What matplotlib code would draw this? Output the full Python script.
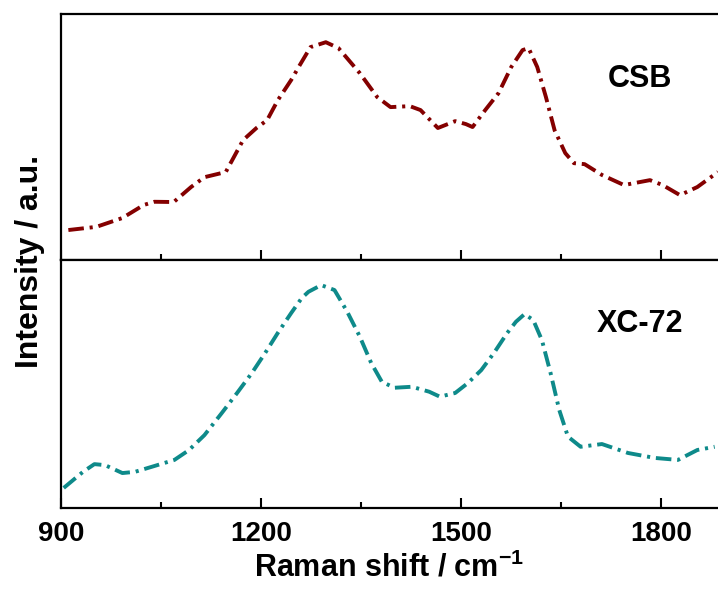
import numpy as np
import matplotlib
matplotlib.use("Agg")
from matplotlib import pyplot as plt
from matplotlib.ticker import MultipleLocator

plt.rcParams['font.family'] = ['Liberation Sans', 'DejaVu Sans']
plt.rcParams['font.weight'] = 'bold'
plt.rcParams['mathtext.fontset'] = 'custom'
plt.rcParams['mathtext.rm'] = 'Liberation Sans:bold'
plt.rcParams['mathtext.default'] = 'rm'

# Raman spectra, normalised intensity
csb_shift = [911, 953, 992, 1024, 1040, 1069, 1095, 1115, 1147, 1173, 1193, 1209,
             1225, 1245, 1258, 1274, 1297, 1316, 1348, 1374, 1394, 1423, 1439, 1465,
             1491, 1507, 1517, 1536, 1556, 1575, 1592, 1601, 1614, 1627, 1640, 1656,
             1669, 1685, 1711, 1744, 1783, 1802, 1828, 1854, 1885]
csb_int = [0.122, 0.135, 0.171, 0.224, 0.237, 0.236, 0.297, 0.337, 0.358, 0.488, 0.537, 0.569,
           0.650, 0.732, 0.793, 0.866, 0.886, 0.862, 0.760, 0.663, 0.622, 0.626, 0.610, 0.537,
           0.565, 0.553, 0.541, 0.610, 0.679, 0.785, 0.854, 0.862, 0.785, 0.663, 0.528, 0.435,
           0.394, 0.390, 0.346, 0.305, 0.325, 0.305, 0.264, 0.297, 0.358]

xc72_shift = [904, 933, 950, 966, 992, 1011, 1037, 1070, 1092, 1115, 1141, 1164,
              1186, 1206, 1225, 1245, 1261, 1271, 1290, 1310, 1329, 1348, 1365, 1381,
              1400, 1426, 1452, 1468, 1491, 1510, 1530, 1549, 1569, 1582, 1595, 1608,
              1621, 1634, 1647, 1660, 1679, 1711, 1750, 1790, 1825, 1854, 1880]
xc72_int = [0.081, 0.146, 0.177, 0.173, 0.141, 0.146, 0.167, 0.194, 0.234, 0.294, 0.383, 0.464,
            0.544, 0.625, 0.706, 0.786, 0.847, 0.872, 0.899, 0.879, 0.792, 0.691, 0.585, 0.509,
            0.485, 0.489, 0.469, 0.449, 0.464, 0.504, 0.556, 0.625, 0.706, 0.751, 0.782, 0.758,
            0.677, 0.544, 0.395, 0.288, 0.247, 0.258, 0.222, 0.202, 0.194, 0.234, 0.247]

names = ['CSB', 'XC-72']
colors = ['#840000', '#0e8a8a']
x_ticks = [900, 1200, 1500, 1800]

fig = plt.figure(figsize=(7.18, 5.91), dpi=100)
ax1 = fig.add_axes([0.085, 0.560, 0.915, 0.416])
ax2 = fig.add_axes([0.085, 0.1404, 0.915, 0.4196], sharex=ax1)

dash = (0, (4, 1.5, 0.8, 1.5))
ax1.plot(csb_shift, csb_int, color=colors[0], lw=2.8, linestyle=dash)
ax2.plot(xc72_shift, xc72_int, color=colors[1], lw=2.8, linestyle=dash)

for ax, name, ty in [(ax1, names[0], 0.736), (ax2, names[1], 0.742)]:
    ax.set_ylim(0, 1)
    ax.set_xlim(900, 1885)
    ax.spines['right'].set_visible(False)
    for s in ['left', 'top', 'bottom']:
        ax.spines[s].set_linewidth(1.6)
    ax.set_yticks([])
    ax.xaxis.set_major_locator(MultipleLocator(300))
    ax.xaxis.set_minor_locator(MultipleLocator(150))
    ax.tick_params(axis='x', which='major', direction='in', length=7.5, width=1.5,
                   top=False, labelsize=20, pad=9)
    ax.tick_params(axis='x', which='minor', direction='in', length=4, width=1.5, top=False)
    ax.text(0.881, ty, name, transform=ax.transAxes, ha='center', va='center',
            fontsize=22, fontweight='bold')

ax1.tick_params(axis='x', labelbottom=False)
ax2.set_xticks(x_ticks)
ax2.set_xlabel('Raman shift / cm$^{-1}$', fontsize=22, fontweight='bold', labelpad=4)
fig.text(0.042, 0.557, 'Intensity / a.u.', rotation=90, ha='center', va='center',
         fontsize=23, fontweight='bold')

fig.savefig('out.png', dpi=100)
